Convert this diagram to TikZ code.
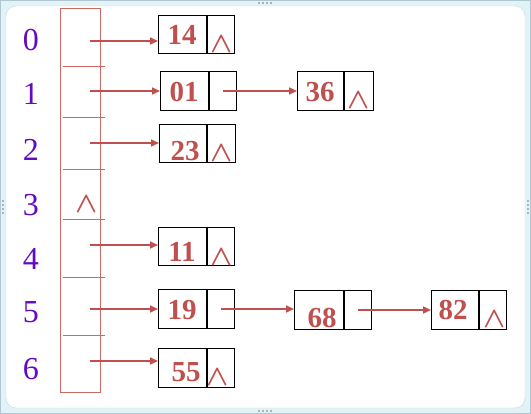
\RequirePackage{fix-cm}
\documentclass[tikz,border=0pt]{standalone}
\usepackage{fontspec}
\setmainfont{Liberation Serif}
\usetikzlibrary{arrows.meta}

\definecolor{keyred}{RGB}{192,80,77}
\definecolor{tabred}{RGB}{205,105,100}
\definecolor{idxpurple}{RGB}{100,10,195}
\definecolor{framecyan}{RGB}{226,243,247}
\definecolor{frameline}{RGB}{176,198,208}

\begin{document}
\begin{tikzpicture}[x=1pt, y=-1pt, >={Triangle[length=8pt,width=7pt]},
	every node/.style={inner sep=0pt},
	cell/.style={draw=black, line width=1.1pt, minimum height=38.5pt, anchor=west},
	key/.style={text=keyred, font=\fontsize{29}{29}\selectfont\bfseries},
	nil/.style={text=keyred, font=\fontsize{29}{29}\selectfont\boldmath},
	idx/.style={text=idxpurple, font=\fontsize{32}{32}\selectfont},
	tabline/.style={draw=tabred, line width=1pt},
	link/.style={->, draw=keyred, line width=1.6pt}]
	% window frame
	\useasboundingbox (0,0) rectangle (531,414);
	\fill[framecyan] (0,0) rectangle (531,414);
	\draw[frameline] (0.5,0.5) rectangle (530.5,413.5);
	\draw[frameline!70, fill=white, rounded corners=10pt] (6,6) rectangle (525,408);
	\foreach \x in {258,262,266,270} {
		\fill[gray!60] (\x,2) rectangle ++(2,2);
		\fill[gray!60] (\x,410) rectangle ++(2,2);
	}
	\foreach \y in {200,204,208,212} {
		\fill[gray!60] (2,\y) rectangle ++(2,2);
		\fill[gray!60] (527,\y) rectangle ++(2,2);
	}
	% hash table
	\node[tabline, minimum width=40pt, minimum height=384pt] (tab) at (80,201) {};
	\foreach \y in {67,118,170,220,278,336}
		\draw[tabline] (63,\y) -- (105,\y);
	\foreach \i/\y in {0/40,1/94,2/150,3/205,4/259,5/312,6/369}
		\node[idx] (i\i) at (31,\y) {\i};
	\foreach \i/\y in {0/41,1/91,2/143,4/245,5/309,6/361}
		\coordinate (s\i) at (90,\y);
	\node[nil] (s3nil) at (87,204) {$\wedge$};
	% chain nodes
	\node[cell, minimum width=48pt] (k14) at (158,34.5) {};
	\node[cell, minimum width=27pt] (p14) at (k14.east) {};
	\node[cell, minimum width=48pt] (k01) at (160,91) {};
	\node[cell, minimum width=27pt] (p01) at (k01.east) {};
	\node[cell, minimum width=47pt] (k23) at (159,143.5) {};
	\node[cell, minimum width=28pt] (p23) at (k23.east) {};
	\node[cell, minimum width=46pt] (k36) at (297,91) {};
	\node[cell, minimum width=29pt] (p36) at (k36.east) {};
	\node[cell, minimum width=48pt] (k11) at (158,246.5) {};
	\node[cell, minimum width=27pt] (p11) at (k11.east) {};
	\node[cell, minimum width=48pt] (k19) at (158,309) {};
	\node[cell, minimum width=27pt] (p19) at (k19.east) {};
	\node[cell, minimum width=48pt] (k55) at (158,368) {};
	\node[cell, minimum width=27pt] (p55) at (k55.east) {};
	\node[cell, minimum width=49pt] (k68) at (294,310) {};
	\node[cell, minimum width=27pt] (p68) at (k68.east) {};
	\node[cell, minimum width=47pt] (k82) at (431,310) {};
	\node[cell, minimum width=27pt] (p82) at (k82.east) {};
	% keys
	\node[key] (v14) at (182,35) {14};
	\node[key] (v01) at (184,92) {01};
	\node[key] (v23) at (185,151) {23};
	\node[key] (v36) at (320,92) {36};
	\node[key] (v11) at (182,252) {11};
	\node[key] (v19) at (182,310) {19};
	\node[key] (v55) at (186,372) {55};
	\node[key] (v68) at (322,318) {68};
	\node[key] (v82) at (453,310) {82};
	% null pointers
	\node[nil] (n14) at (222,44) {$\wedge$};
	\node[nil] (n23) at (222,153) {$\wedge$};
	\node[nil] (n36) at (359,100) {$\wedge$};
	\node[nil] (n11) at (222,257) {$\wedge$};
	\node[nil] (n55) at (218,377) {$\wedge$};
	\node[nil] (n82) at (495,319) {$\wedge$};
	% links
	\draw[link] (s0) -- (s0 -| k14.west);
	\draw[link] (s1) -- (s1 -| k01.west);
	\draw[link] (s2) -- (s2 -| k23.west);
	\draw[link] (s4) -- (s4 -| k11.west);
	\draw[link] (s5) -- (s5 -| k19.west);
	\draw[link] (s6) -- (s6 -| k55.west);
	\draw[link] (p01.center) -- (p01.center -| k36.west);
	\draw[link] (p19.center) -- (p19.center -| k68.west);
	\draw[link] (p68.center) -- (p68.center -| k82.west);
\end{tikzpicture}
\end{document}
